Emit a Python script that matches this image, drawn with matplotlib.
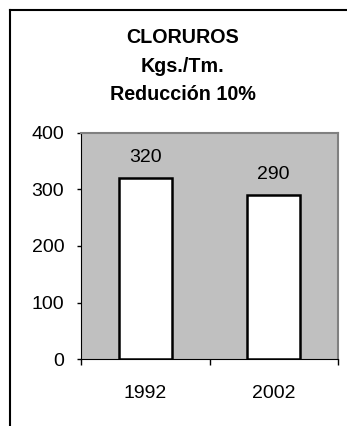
import matplotlib
matplotlib.use("Agg")
import matplotlib.pyplot as plt
import numpy as np

plt.rcParams["font.family"] = ["Liberation Sans", "DejaVu Sans"]

years = ["1992", "2002"]
values = [320, 290]
title_lines = ["CLORUROS", "Kgs./Tm.", "Reducción 10%"]
yticks = [0, 100, 200, 300, 400]

W, H = 347, 426
fig = plt.figure(figsize=(W / 100, H / 100), dpi=100)
# outer chart frame (only top and left edges show in the cropped source)
fig.add_artist(plt.Line2D([10 / W, 10 / W], [0, 1 - 10 / H], color="black", lw=1.5))
fig.add_artist(plt.Line2D([10 / W, 1], [1 - 10 / H, 1 - 10 / H], color="black", lw=1.5))

ax = fig.add_axes([81 / W, 1 - 359 / H, (338 - 81) / W, (359 - 133) / H])
ax.set_facecolor("#c0c0c0")
x = np.arange(len(years))
ax.bar(x, values, 0.41, color="white", edgecolor="black", linewidth=1.8, zorder=3)
for xi, v in zip(x, values):
    ax.text(xi, v + 28, str(v), ha="center", va="baseline", fontsize=14)

ax.set_xlim(-0.5, 1.5)
ax.set_ylim(0, 400)
ax.set_yticks(yticks)
ax.set_yticklabels([str(t) for t in yticks], fontsize=14)
ax.set_xticks([-0.5, 0.5, 1.5])
ax.set_xticklabels([])
ax.set_xticks(x, minor=True)
ax.set_xticklabels(years, minor=True, fontsize=14)
ax.tick_params(axis="x", which="minor", length=0, pad=19)
ax.tick_params(axis="x", which="major", length=4, direction="out", width=1)
ax.tick_params(axis="y", length=3, direction="out", width=1, pad=9)
ax.spines["top"].set_color("#808080")
ax.spines["right"].set_color("#808080")
ax.spines["right"].set_linewidth(1.5)
ax.spines["top"].set_linewidth(1.5)
ax.spines["left"].set_color("black")
ax.spines["bottom"].set_color("black")

for i, line in enumerate(title_lines):
    fig.text(183 / W, 1 - (43.3 + 28.5 * i) / H, line, ha="center", va="baseline",
             fontsize=14.2, fontweight="bold")

fig.savefig("out.png", dpi=100)
